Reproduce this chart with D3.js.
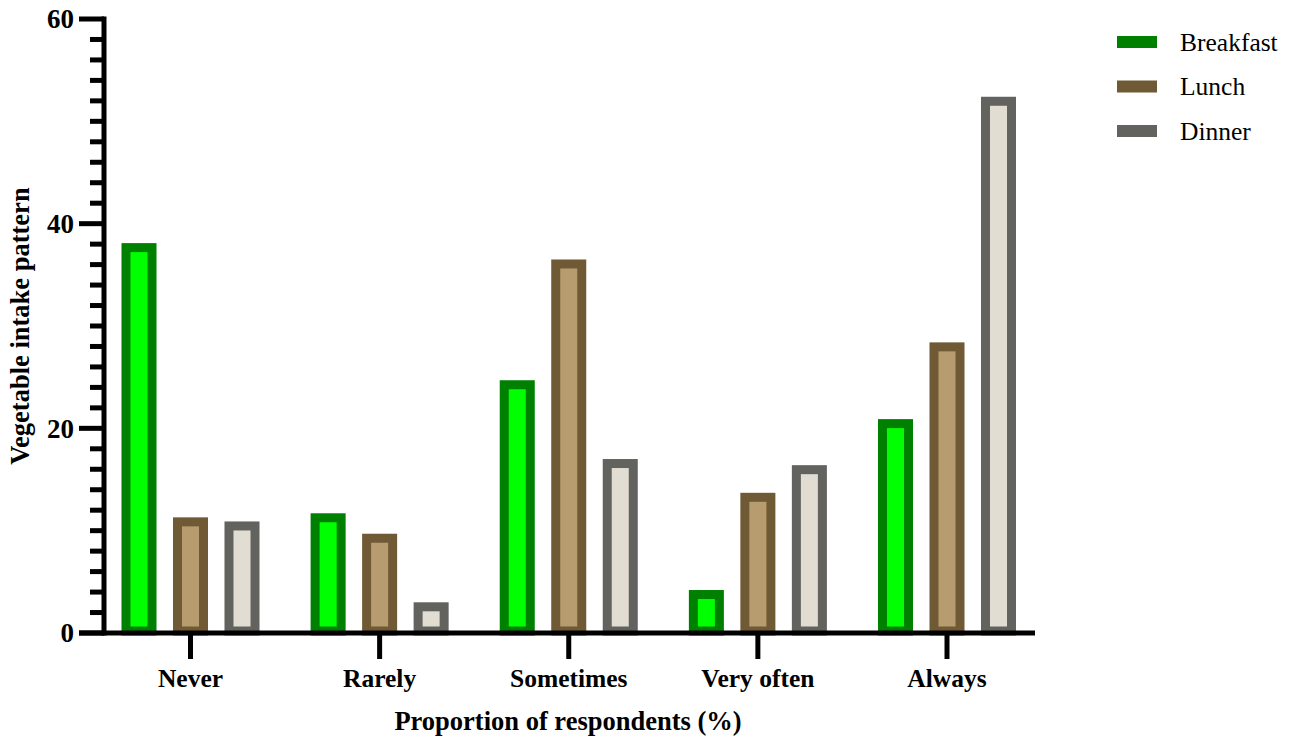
<!DOCTYPE html>
<html lang="en">
<head>
<meta charset="UTF-8">
<title>Vegetable intake pattern</title>
<script src="https://d3js.org/d3.v7.min.js"></script>
<style>
  body { margin: 0; background: #fff; }
  text { font-family: "Liberation Serif", "Times New Roman", serif; }
</style>
</head>
<body>
<div id="chart"></div>
<script>
// data
const categories = ["Never", "Rarely", "Sometimes", "Very often", "Always"];
const series = ["Breakfast", "Lunch", "Dinner"];
const breakfast = [38.1, 11.7, 24.7, 4.2, 20.9];
const lunch = [11.3, 9.7, 36.5, 13.7, 28.4];
const dinner = [10.9, 3.0, 17.0, 16.4, 52.4];
const yTicks = [0, 20, 40, 60];

const values = [breakfast, lunch, dinner];
const fills = ["#00ff00", "#b79c6f", "#e2ddd2"];
const strokes = ["#008000", "#705a35", "#62625e"];

const width = 1293, height = 738;
const svg = d3.select("#chart").append("svg")
  .attr("width", width)
  .attr("height", height);

const y = d3.scaleLinear().domain([0, 60]).range([633, 19]);
const x = d3.scalePoint().domain(categories).range([190.5, 947]);
const xs = d3.scaleBand().domain(series).range([-77.25, 77.25])
  .paddingInner(0.32).paddingOuter(0.16);

const sw = 9;
const bw = xs.bandwidth();

// bars
series.forEach((s, i) => {
  svg.append("g").selectAll("rect")
    .data(categories.map((c, j) => ({ c: c, v: values[i][j] })))
    .enter().append("rect")
    .attr("x", d => x(d.c) + xs(s) + sw / 2)
    .attr("width", bw - sw)
    .attr("y", d => y(d.v) + sw / 2)
    .attr("height", d => y(0) - 2 - y(d.v) - sw / 2)
    .attr("fill", fills[i])
    .attr("stroke", strokes[i])
    .attr("stroke-width", sw);
});

// y axis
const axisX = 104;
const yAxis = svg.append("g");
yAxis.append("line")
  .attr("x1", axisX).attr("x2", axisX)
  .attr("y1", y(60) - 2.5).attr("y2", y(0) + 2.5)
  .attr("stroke", "#000").attr("stroke-width", 5);
d3.range(0, 61, 2).forEach(t => {
  const major = t % 20 === 0;
  yAxis.append("line")
    .attr("x1", major ? 79 : 90).attr("x2", axisX)
    .attr("y1", y(t)).attr("y2", y(t))
    .attr("stroke", "#000").attr("stroke-width", 5);
});
yAxis.selectAll("text")
  .data(yTicks)
  .enter().append("text")
  .attr("x", 74)
  .attr("y", d => y(d))
  .attr("dy", "0.35em")
  .attr("text-anchor", "end")
  .attr("font-size", "27px")
  .attr("font-weight", "bold")
  .text(d => d);

// x axis
const xAxis = svg.append("g");
xAxis.append("line")
  .attr("x1", 79).attr("x2", 1035)
  .attr("y1", y(0)).attr("y2", y(0))
  .attr("stroke", "#000").attr("stroke-width", 5);
xAxis.selectAll(".tick")
  .data(categories)
  .enter().append("line")
  .attr("x1", d => x(d)).attr("x2", d => x(d))
  .attr("y1", y(0)).attr("y2", 659)
  .attr("stroke", "#000").attr("stroke-width", 5);
xAxis.selectAll("text")
  .data(categories)
  .enter().append("text")
  .attr("x", d => x(d))
  .attr("y", 687)
  .attr("text-anchor", "middle")
  .attr("font-size", "25.5px")
  .attr("font-weight", "bold")
  .text(d => d);

// axis titles
svg.append("text")
  .attr("x", 568).attr("y", 730)
  .attr("text-anchor", "middle")
  .attr("font-size", "26.5px")
  .attr("font-weight", "bold")
  .text("Proportion of respondents (%)");

svg.append("text")
  .attr("transform", "translate(29,326) rotate(-90)")
  .attr("text-anchor", "middle")
  .attr("font-size", "26.5px")
  .attr("font-weight", "bold")
  .text("Vegetable intake pattern");

// legend
const legend = svg.append("g").attr("transform", "translate(1117,42)");
legend.selectAll("rect")
  .data(series)
  .enter().append("rect")
  .attr("x", 0)
  .attr("y", (d, i) => i * 44.5 - 6)
  .attr("width", 40)
  .attr("height", 12)
  .attr("fill", (d, i) => strokes[i]);
legend.selectAll("text")
  .data(series)
  .enter().append("text")
  .attr("x", 63)
  .attr("y", (d, i) => i * 44.5)
  .attr("dy", "0.35em")
  .attr("font-size", "25.5px")
  .text(d => d);
</script>
</body>
</html>
